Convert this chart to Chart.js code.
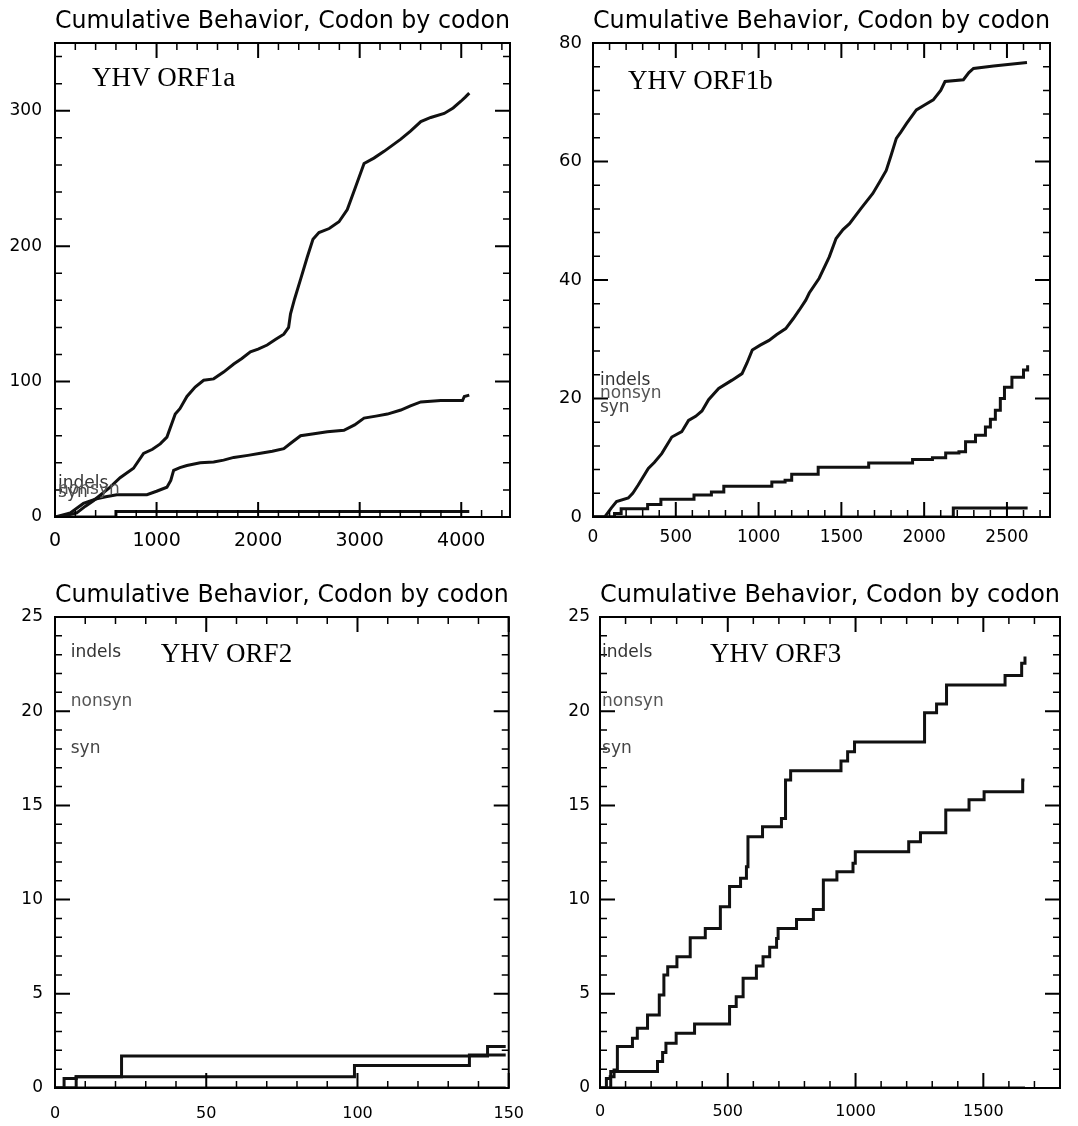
<!DOCTYPE html>
<html><head><meta charset="utf-8">
<script src="https://cdn.jsdelivr.net/npm/chart.js@4"></script>
<style>
html,body{margin:0;padding:0;background:#fff;width:1078px;height:1126px;overflow:hidden}
.p{position:absolute}
canvas{display:block}
</style></head><body>
<div class="p" style="left:0;top:0"><canvas id="c1" width="540" height="565"></canvas></div>
<div class="p" style="left:540px;top:0"><canvas id="c2" width="538" height="565"></canvas></div>
<div class="p" style="left:0;top:574px"><canvas id="c3" width="540" height="552"></canvas></div>
<div class="p" style="left:540px;top:574px"><canvas id="c4" width="538" height="552"></canvas></div>
<script>
// ---------- DATA ----------
const chartTitle = "Cumulative Behavior, Codon by codon";

// YHV ORF1a
const orf1aNonsynX = [0,100,214,300,378,460,543,641,773,872,960,1036,1102,1184,1230,1299,1380,1464,1562,1660,1760,1840,1924,2000,2089,2170,2253,2300,2319,2359,2420,2484,2540,2599,2700,2796,2878,2961,3043,3140,3240,3405,3500,3602,3700,3832,3920,3997,4040,4079];
const orf1aNonsynY = [0,1,3,8,12,17,22,29,36,47,50,54,59,76,80,89,96,101,102,107,113,117,122,124,127,131,135,140,150,161,176,192,205,210,213,218,227,244,261,265,270,279,285,292,295,298,302,307,310,313];
const orf1aSynX = [0,150,280,411,500,609,750,905,1000,1102,1140,1168,1230,1299,1430,1562,1660,1760,1900,2023,2140,2253,2330,2418,2550,2681,2845,2950,3043,3160,3273,3405,3500,3602,3700,3799,3900,4013,4030,4079];
const orf1aSynY = [0,3,10,13.5,15,16.5,16.5,16.5,19,22,27,34.5,36.5,38,40,40.6,42,44,45.5,47,48.5,50.5,55,60,61.5,63,64,68,73,74.5,76,79,82,85,85.5,86,86,86,89,90];
const orf1aIndelX = [0,590,600,4079];
const orf1aIndelY = [0,0,4,4];
const orf1aXTicks = [0,1000,2000,3000,4000];
const orf1aYTicks = [0,100,200,300];

// YHV ORF1b
const orf1bNonsynX = [0,71,110,142,213,240,273,334,370,415,476,536,577,620,658,698,759,840,900,930,962,1010,1063,1110,1164,1210,1245,1285,1306,1366,1427,1468,1510,1549,1619,1690,1730,1771,1800,1832,1860,1893,1953,2000,2055,2100,2126,2237,2270,2298,2419,2621];
const orf1bNonsynY = [0,0,1.5,2.6,3.2,4,5.4,8.2,9.2,10.7,13.5,14.4,16.3,17,17.9,19.8,21.7,23.1,24.2,26,28.2,29,29.8,30.8,31.8,33.5,34.9,36.6,37.8,40.3,43.9,47,48.5,49.5,52.1,54.6,56.5,58.5,61,63.9,65,66.4,68.7,69.5,70.4,72,73.5,73.8,75,75.7,76.1,76.7];
const orf1bSynX = [0,130,170,330,410,610,715,790,1080,1160,1200,1360,1665,1930,2050,2130,2210,2250,2310,2370,2400,2430,2460,2485,2530,2600,2625];
const orf1bSynY = [0,0.6,1.4,2.1,3.0,3.7,4.2,5.2,5.9,6.2,7.2,8.4,9.1,9.7,10.0,10.8,11.0,12.7,13.8,15.2,16.5,18.0,20,21.9,23.6,24.8,25.6];
const orf1bIndelX = [0,2176,2625];
const orf1bIndelY = [0,1.5,1.5];
const orf1bXTicks = [0,500,1000,1500,2000,2500];
const orf1bYTicks = [0,20,40,60,80];

// YHV ORF2
const orf2NonsynX = [0,3,7,22,143,149];
const orf2NonsynY = [0,0.5,0.6,1.7,2.2,2.2];
const orf2SynX = [0,7,99,137,149];
const orf2SynY = [0,0.6,1.2,1.75,1.75];
const orf2IndelX = [0,149];
const orf2IndelY = [0,0];
const orf2XTicks = [0,50,100,150];
const orf2YTicks = [0,5,10,15,20,25];

// YHV ORF3
const orf3NonsynX = [0,25,40,55,68,127,146,186,232,250,265,301,353,412,471,507,550,573,579,636,710,726,746,943,969,996,1270,1317,1356,1585,1650,1663];
const orf3NonsynY = [0,0.5,0.6,0.95,2.2,2.64,3.17,3.87,4.94,6.0,6.44,6.97,7.98,8.47,9.62,10.69,11.13,11.75,13.34,13.87,14.31,16.35,16.84,17.36,17.85,18.37,19.92,20.38,21.39,21.9,22.54,22.9];
const orf3SynX = [0,42,225,245,258,298,370,507,533,560,612,638,664,691,697,769,835,874,927,990,999,1208,1254,1353,1444,1503,1654,1661];
const orf3SynY = [0,0.87,1.4,1.88,2.37,2.9,3.4,4.32,4.85,5.82,6.48,6.97,7.47,7.94,8.47,8.95,9.48,11.04,11.48,11.93,12.54,13.07,13.55,14.76,15.3,15.73,16.35,16.35];
const orf3IndelX = [0,1663];
const orf3IndelY = [0,0];
const orf3XTicks = [0,500,1000,1500];
const orf3YTicks = [0,5,10,15,20,25];

// ---------- HELPERS ----------
const pts = (xs, ys) => xs.map((x, i) => ({x: x, y: ys[i]}));

function frameTicksPlugin(t) {
  return {
    id: 'frameTicks',
    afterDatasetsDraw(chart) {
      const ctx = chart.ctx, a = chart.chartArea, xs = chart.scales.x, ys = chart.scales.y;
      ctx.save();
      ctx.strokeStyle = '#000';
      function run(scale, minor, major, horiz) {
        const n = Math.floor((scale.max - scale.min) / minor + 1e-6);
        for (let i = 0; i <= n; i++) {
          const v = scale.min + i * minor;
          const r = v / major;
          const isMajor = Math.abs(r - Math.round(r)) < 1e-6;
          const len = isMajor ? 15 : 7;
          ctx.lineWidth = isMajor ? 2 : 1.5;
          const p = scale.getPixelForValue(v);
          ctx.beginPath();
          if (horiz) {
            ctx.moveTo(p, a.bottom); ctx.lineTo(p, a.bottom - len);
            ctx.moveTo(p, a.top); ctx.lineTo(p, a.top + len);
          } else {
            ctx.moveTo(a.left, p); ctx.lineTo(a.left + len, p);
            ctx.moveTo(a.right, p); ctx.lineTo(a.right - len, p);
          }
          ctx.stroke();
        }
      }
      run(xs, t.xMinor, t.xMajor, true);
      run(ys, t.yMinor, t.yMajor, false);
      ctx.lineWidth = 2;
      ctx.strokeRect(a.left, a.top, a.right - a.left, a.bottom - a.top);
      ctx.restore();
    }
  };
}

function notesPlugin(items) {
  return {
    id: 'notes',
    afterDatasetsDraw(chart) {
      const ctx = chart.ctx, xs = chart.scales.x, ys = chart.scales.y;
      ctx.save();
      for (const n of items) {
        ctx.font = n.font;
        ctx.fillStyle = n.color;
        ctx.textBaseline = n.baseline;
        ctx.textAlign = 'left';
        ctx.fillText(n.text, xs.getPixelForValue(n.x), ys.getPixelForValue(n.y));
      }
      ctx.restore();
    }
  };
}

const serif = '27px "Liberation Serif", "Times New Roman", serif';
const sans = '17px "DejaVu Sans", sans-serif';

function legendNotes(x, yi, yn, ys) {
  return [
    {text: 'indels', x: x, y: yi, font: sans, color: '#333', baseline: 'middle'},
    {text: 'nonsyn', x: x, y: yn, font: sans, color: '#555', baseline: 'middle'},
    {text: 'syn', x: x, y: ys, font: sans, color: '#444', baseline: 'middle'}
  ];
}

function makeChart(id, c) {
  const ds = (data, stepped) => ({
    data: data, borderColor: '#111', borderWidth: c.lw, pointRadius: 0,
    fill: false, tension: 0, stepped: stepped
  });
  new Chart(document.getElementById(id), {
    type: 'line',
    data: {datasets: [
      ds(c.nonsyn, c.stepNonsyn),
      ds(c.syn, c.stepSyn),
      ds(c.indel, 'before')
    ]},
    options: {
      responsive: false,
      animation: false,
      events: [],
      layout: {padding: {left: 0, right: c.padRight, top: 0, bottom: 0}},
      plugins: {
        legend: {display: false},
        tooltip: {enabled: false},
        title: {
          display: true, text: chartTitle, color: '#000', fullSize: false,
          font: {family: '"DejaVu Sans", sans-serif', size: 24, weight: 'normal', lineHeight: 1.2},
          padding: {top: 7, bottom: 7.2}
        }
      },
      scales: {
        x: {
          type: 'linear', min: 0, max: c.xMax,
          grid: {display: false, drawTicks: false},
          border: {display: false},
          afterBuildTicks: s => { s.ticks = c.xTicks.map(v => ({value: v})); },
          afterFit: s => { s.height = c.xHeight; },
          ticks: {
            color: '#000', maxRotation: 0, autoSkip: false, padding: c.xPad,
            font: {family: '"DejaVu Sans", sans-serif', size: c.xFont},
            callback: v => String(v)
          }
        },
        y: {
          type: 'linear', min: 0, max: c.yMax,
          grid: {display: false, drawTicks: false},
          border: {display: false},
          afterBuildTicks: s => { s.ticks = c.yTicks.map(v => ({value: v})); },
          afterFit: s => { s.width = c.yWidth; },
          ticks: {
            color: '#000', autoSkip: false, padding: c.yPad,
            font: {family: '"DejaVu Sans", sans-serif', size: c.yFont},
            callback: v => String(v)
          }
        }
      }
    },
    plugins: [frameTicksPlugin(c.t), notesPlugin(c.notes)]
  });
}

makeChart('c1', {
  nonsyn: pts(orf1aNonsynX, orf1aNonsynY), syn: pts(orf1aSynX, orf1aSynY), indel: pts(orf1aIndelX, orf1aIndelY),
  stepNonsyn: false, stepSyn: false, lw: 3,
  xMax: 4480, yMax: 350, xTicks: orf1aXTicks, yTicks: orf1aYTicks,
  padRight: 30, yWidth: 55, xHeight: 48, xPad: 13, yPad: 13, xFont: 19, yFont: 17,
  t: {xMinor: 200, xMajor: 1000, yMinor: 20, yMajor: 100},
  notes: [{text: 'YHV ORF1a', x: 365, y: 318, font: serif, color: '#000', baseline: 'alphabetic'}]
    .concat(legendNotes(30, 24.4, 20, 17.7))
});

makeChart('c2', {
  nonsyn: pts(orf1bNonsynX, orf1bNonsynY), syn: pts(orf1bSynX, orf1bSynY), indel: pts(orf1bIndelX, orf1bIndelY),
  stepNonsyn: false, stepSyn: 'before', lw: 3,
  xMax: 2760, yMax: 80, xTicks: orf1bXTicks, yTicks: orf1bYTicks,
  padRight: 28, yWidth: 53, xHeight: 48, xPad: 10, yPad: 11, xFont: 17, yFont: 18,
  t: {xMinor: 100, xMajor: 500, yMinor: 4, yMajor: 20},
  notes: [{text: 'YHV ORF1b', x: 211, y: 72.2, font: serif, color: '#000', baseline: 'alphabetic'}]
    .concat(legendNotes(42, 23.1, 20.8, 18.4))
});

makeChart('c3', {
  nonsyn: pts(orf2NonsynX, orf2NonsynY), syn: pts(orf2SynX, orf2SynY), indel: pts(orf2IndelX, orf2IndelY),
  stepNonsyn: 'before', stepSyn: 'before', lw: 3,
  xMax: 150, yMax: 25, xTicks: orf2XTicks, yTicks: orf2YTicks,
  padRight: 23, yWidth: 55, xHeight: 38, xPad: 16, yPad: 12, xFont: 16, yFont: 17,
  t: {xMinor: 10, xMajor: 50, yMinor: 1, yMajor: 5},
  notes: [{text: 'YHV ORF2', x: 35, y: 22.6, font: serif, color: '#000', baseline: 'alphabetic'}]
    .concat(legendNotes(5.2, 23.1, 20.5, 18.0))
});

makeChart('c4', {
  nonsyn: pts(orf3NonsynX, orf3NonsynY), syn: pts(orf3SynX, orf3SynY), indel: pts(orf3IndelX, orf3IndelY),
  stepNonsyn: 'before', stepSyn: 'before', lw: 3,
  xMax: 1800, yMax: 25, xTicks: orf3XTicks, yTicks: orf3YTicks,
  padRight: 18, yWidth: 60, xHeight: 38, xPad: 14, yPad: 10, xFont: 16, yFont: 17,
  t: {xMinor: 100, xMajor: 500, yMinor: 1, yMajor: 5},
  notes: [{text: 'YHV ORF3', x: 430, y: 22.6, font: serif, color: '#000', baseline: 'alphabetic'}]
    .concat(legendNotes(8, 23.1, 20.5, 18.0))
});
</script>
</body></html>
